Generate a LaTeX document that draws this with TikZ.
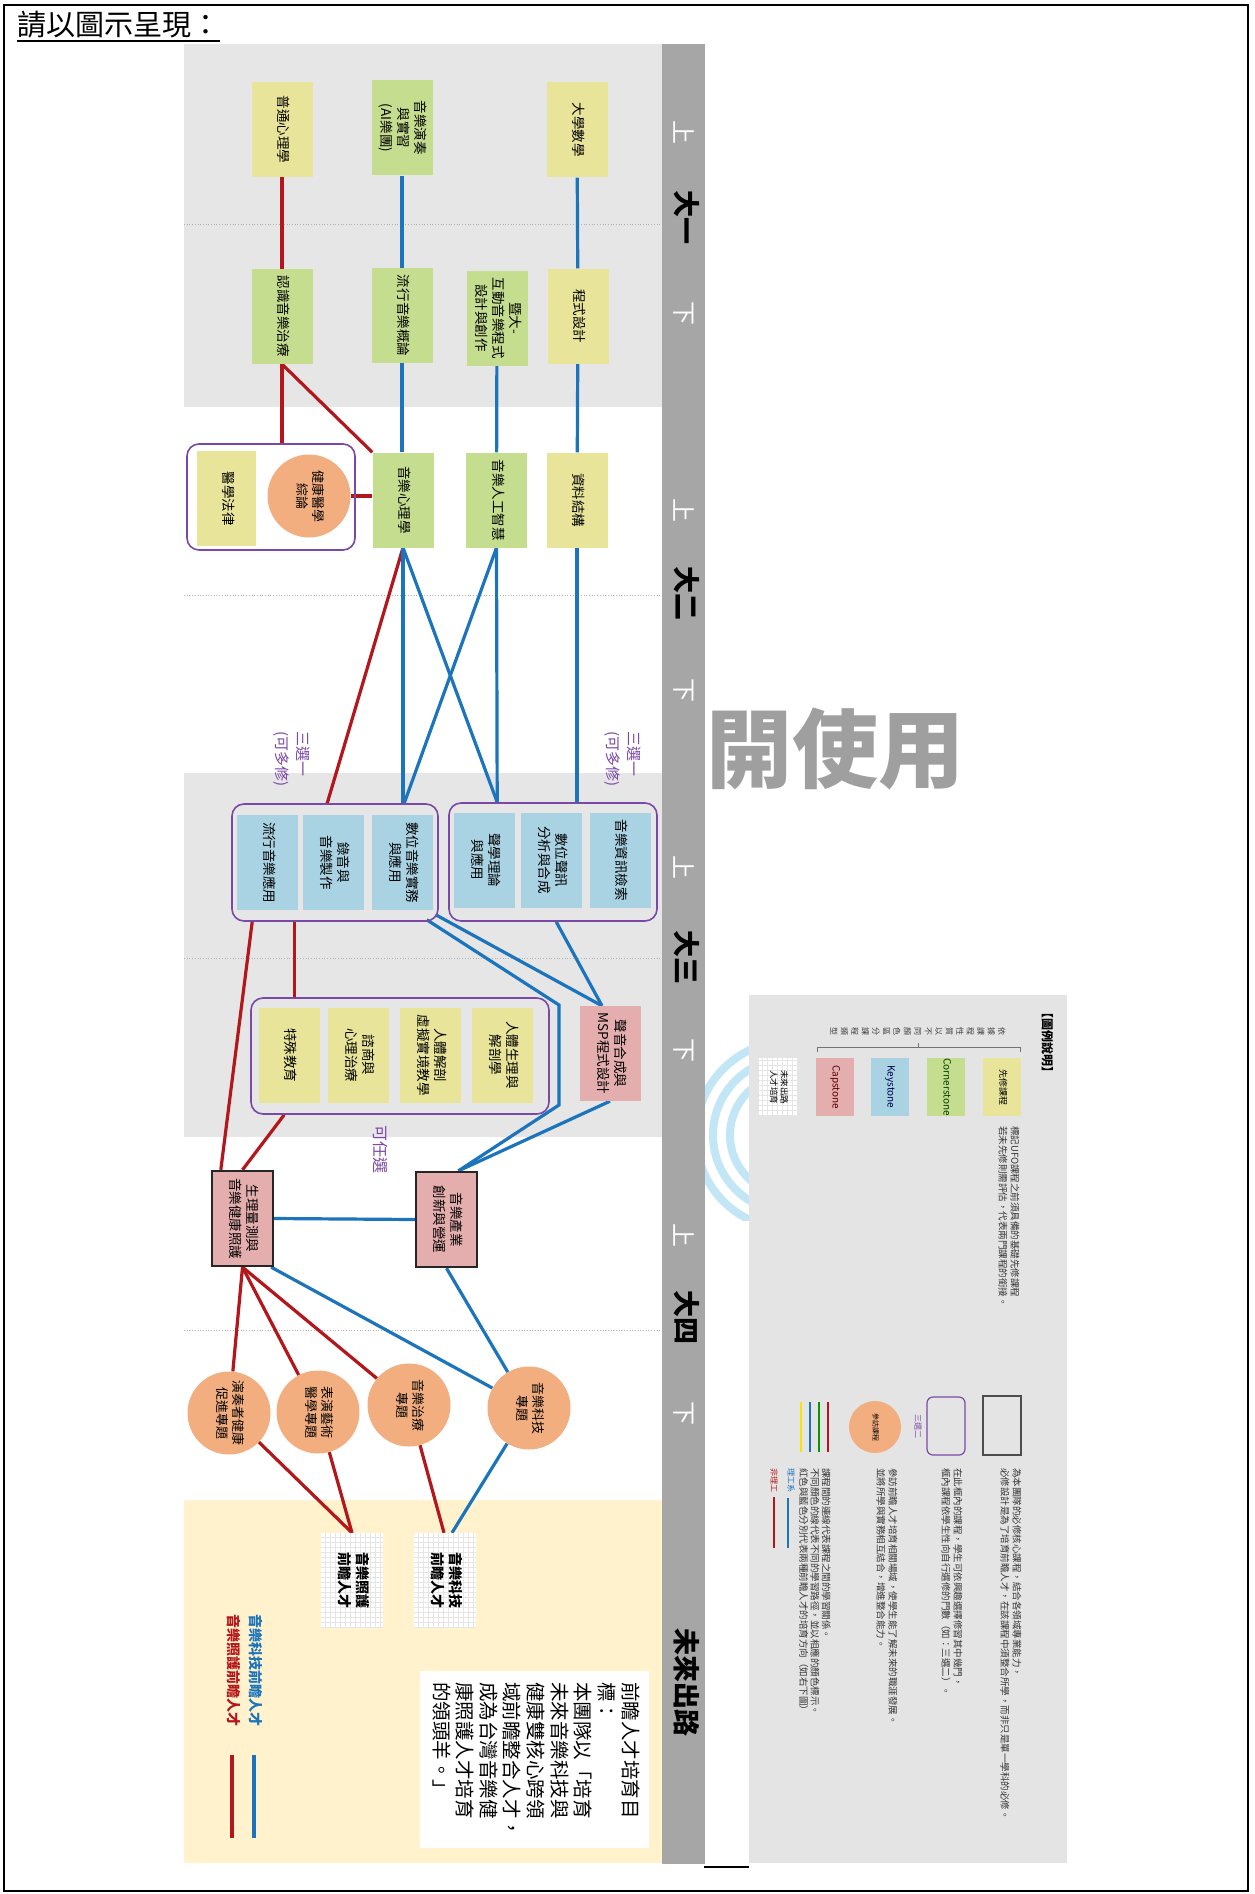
\documentclass[tikz,border=0pt]{standalone}
\usepackage{fontspec}
\setmainfont{Noto Sans CJK TC}
\usepackage{graphicx}
\usetikzlibrary{calc}
\definecolor{cy}{HTML}{E8E49A}
\definecolor{cg}{HTML}{C5DD8E}
\definecolor{cb}{HTML}{A9D3E3}
\definecolor{cp}{HTML}{E5AEAE}
\definecolor{co}{HTML}{F3AE80}
\definecolor{pur}{HTML}{7A48A6}
\definecolor{lred}{HTML}{B3161B}
\definecolor{lblue}{HTML}{1B74BC}
\definecolor{barc}{HTML}{A6A6A6}
\definecolor{band}{HTML}{E7E6E6}
\definecolor{cream}{HTML}{FFF2CC}
\definecolor{legbg}{HTML}{E4E4E4}
\definecolor{arcc}{HTML}{C2E6F5}
\newcommand{\vt}[1]{\rotatebox{-90}{\begin{tabular}{@{}c@{}}#1\end{tabular}}}
\newcommand{\vl}[1]{\rotatebox{-90}{\begin{tabular}{@{}l@{}}#1\end{tabular}}}
\pgfdeclarelayer{back}
\pgfdeclarelayer{mid}
\pgfsetlayers{back,mid,main}
\tikzset{
 bx/.style={rectangle, inner sep=0pt, minimum width=61, minimum height=95, font=\fontsize{13.5}{17}\selectfont},
 yb/.style={bx, fill=cy}, gb/.style={bx, fill=cg}, bb/.style={bx, fill=cb}, pb/.style={bx, fill=cp},
 capb/.style={bx, fill=cp, draw=black!85, line width=2.4},
 orb/.style={circle, fill=co, minimum size=83, inner sep=0pt, font=\fontsize{13}{16}\selectfont},
 grp/.style={rectangle, draw=pur, line width=1.6, rounded corners=12, inner sep=0pt},
 gridbox/.style={rectangle, fill=white, inner sep=0pt, path picture={\draw[black!10, line width=0.4] (path picture bounding box.south west) grid[step=5pt] (path picture bounding box.north east);}},
 cl/.style={draw=lred, line width=3.2},
 tl/.style={draw=lblue, line width=3.2},
 ylab/.style={font=\fontsize{24}{24}\selectfont, text=white, inner sep=0pt},
 ybig/.style={font=\bfseries\fontsize{27}{30}\selectfont, inner sep=0pt},
 pl/.style={text=pur, font=\fontsize{15}{21}\selectfont, inner sep=0pt},
 desc/.style={anchor=north east, inner sep=0pt, text=black!80, font=\fontsize{9.5}{12}\selectfont},
}
\begin{document}
\begin{tikzpicture}[x=1pt,y=-1pt]
\useasboundingbox (0,0) rectangle (1254,1894);
\begin{pgfonlayer}{back}
 \fill[white] (0,0) rectangle (1254,1894);
 \fill[band] (184,44) rectangle (662,407);
 \fill[band] (184,773) rectangle (662,1137);
 \fill[cream] (184,1500) rectangle (662,1863);
 \foreach \yy in {224,595,958,1330} \draw[black!30, dotted, line width=0.7] (184,\yy) -- (662,\yy);
 \node[anchor=west, inner sep=0pt, text=gray!75, font=\bfseries\fontsize{86}{90}\selectfont] (wm) at (706,749) {開使用};
 \begin{scope}
  \clip (705,1040) rectangle (749,1220);
  \draw[arcc, line width=8] (790,1135) circle (60);
  \draw[arcc, line width=8] (790,1135) circle (77);
  \draw[arcc, line width=8] (790,1135) circle (94);
 \end{scope}
 \fill[barc] (662,44) rectangle (705,1864);
 \fill[legbg] (749,995) rectangle (1067,1863);
 \draw[line width=2.5] (4,5) rectangle (1248,1891);
 \draw[line width=2] (704,1867) -- (749,1867);
\end{pgfonlayer}

% title
\node[anchor=base west, inner sep=0pt, font=\fontsize{29}{31}\selectfont] (title) at (17,36) {請以圖示呈現：};
\draw[line width=1.6] ($(title.south west)+(0,2)$) -- ($(title.south east)+(0,2)$);

% year bar labels
\node[ylab] (s1u) at (684,133) {\rotatebox{-90}{上}};
\node[ybig] (s1) at (684,218) {\vt{大一}};
\node[ylab] (s1d) at (684,313) {\rotatebox{-90}{下}};
\node[ylab] (s2u) at (684,510) {\rotatebox{-90}{上}};
\node[ybig] (s2) at (684,593) {\vt{大二}};
\node[ylab] (s2d) at (684,690) {\rotatebox{-90}{下}};
\node[ylab] (s3u) at (684,867) {\rotatebox{-90}{上}};
\node[ybig] (s3) at (684,957) {\vt{大三}};
\node[ylab] (s3d) at (684,1050) {\rotatebox{-90}{下}};
\node[ylab] (s4u) at (684,1235) {\rotatebox{-90}{上}};
\node[ybig] (s4) at (684,1317) {\vt{大四}};
\node[ylab] (s4d) at (684,1413) {\rotatebox{-90}{下}};
\node[ybig] (s5) at (684,1682) {\vt{未來出路}};

% year 1
\node[yb] (n1) at (282,129.5) {\vt{普通心理學}};
\node[gb] (n2) at (402,128) {\vt{音樂演奏\\與實習\\(AI樂團)}};
\node[yb] (n3) at (577,130) {\vt{大學數學}};
\node[gb] (n4) at (282,316.5) {\vt{認識音樂治療}};
\node[gb] (n5) at (402,315.5) {\vt{流行音樂概論}};
\node[gb] (n6) at (497,318) {\vt{暨大-\\互動音樂程式\\設計與創作}};
\node[yb] (n7) at (578,316) {\vt{程式設計}};

% year 2
\node[grp, minimum width=168, minimum height=106] (g1) at (271,497) {};
\node[yb, minimum width=59] (n11) at (226.5,498.5) {\vt{醫學法律}};
\node[orb] (n12) at (309,496) {\vt{健康醫學\\綜論}};
\node[gb] (n8) at (403,500) {\vt{音樂心理學}};
\node[gb] (n9) at (496.5,500) {\vt{音樂人工智慧}};
\node[yb] (n10) at (577,500) {\vt{資料結構}};

% year 3
\node[grp, minimum width=206, minimum height=117] (gA) at (335,862.5) {};
\node[bb] (a1) at (267.5,862.5) {\vt{流行音樂應用}};
\node[bb] (a2) at (333,862.5) {\vt{錄音與\\音樂製作}};
\node[bb] (a3) at (402,862.5) {\vt{數位音樂實務\\與應用}};
\node[grp, minimum width=208, minimum height=118] (gB) at (553,862) {};
\node[bb] (b1) at (484.5,860) {\vt{聲學理論\\與應用}};
\node[bb] (b2) at (551,860) {\vt{數位聲訊\\分析與合成}};
\node[bb] (b3) at (620,860) {\vt{音樂資訊檢索}};
\node[pl, anchor=north east] (lab1) at (643,731) {\vl{三選一\\(可多修)}};
\node[pl, anchor=north east] (lab2) at (312,731) {\vl{三選一\\(可多修)}};
\node[grp, minimum width=298, minimum height=116] (gC) at (400,1056) {};
\node[yb] (c1) at (289,1055) {\vt{特殊教育}};
\node[yb] (c2) at (358,1055) {\vt{諮商與\\心理治療}};
\node[yb] (c3) at (430.5,1055) {\vt{人體解剖\\虛擬實境教學}};
\node[yb] (c4) at (502.5,1055) {\vt{人體生理與\\解剖學}};
\node[pb] (msp) at (610,1053.5) {\vt{聲音合成與\\MSP程式設計}};
\node[pl, font=\fontsize{16}{18}\selectfont] (lab3) at (378,1149) {\vt{可任選}};

% year 4
\node[capb] (cap1) at (242.5,1218.5) {\vt{生理量測與\\音樂健康照護}};
\node[capb] (cap2) at (446.5,1219.5) {\vt{音樂產業\\創新與營運}};
\node[orb] (p1) at (229,1413) {\vt{演奏者健康\\促進專題}};
\node[orb] (p2) at (318,1412) {\vt{表演藝術\\醫學專題}};
\node[orb] (p3) at (409,1405) {\vt{音樂治療\\專題}};
\node[orb] (p4) at (529,1408) {\vt{音樂科技\\專題}};

% future
\node[gridbox, minimum width=62, minimum height=94, font=\bfseries\fontsize{14}{17}\selectfont] (f1) at (352,1580) {\vt{音樂照護\\前瞻人才}};
\node[gridbox, minimum width=62, minimum height=94, font=\bfseries\fontsize{14}{17}\selectfont] (f2) at (445,1580) {\vt{音樂科技\\前瞻人才}};
\node[rectangle, fill=white, minimum width=229, minimum height=177, inner sep=0pt] (goalbox) at (534.5,1759.5) {};
\node[anchor=north east, inner sep=0pt, font=\fontsize{19.5}{23.6}\selectfont] (goal) at (640,1682) {\vl{前瞻人才培育目\\標：\\本團隊以「培育\\未來音樂科技與\\健康雙核心跨領\\域前瞻整合人才，\\成為台灣音樂健\\康照護人才培育\\的領頭羊。」}};
\node[inner sep=0pt, text=lblue, font=\bfseries\fontsize{14}{16}\selectfont] (lgb) at (254,1670) {\vt{音樂科技前瞻人才}};
\node[inner sep=0pt, text=lred, font=\bfseries\fontsize{14}{16}\selectfont] (lgr) at (232,1670) {\vt{音樂照護前瞻人才}};
\coordinate (lgb1) at (254,1755); \coordinate (lgb2) at (254,1838);
\coordinate (lgr1) at (232,1755); \coordinate (lgr2) at (232,1838);

% legend
\node[inner sep=0pt, font=\bfseries\fontsize{12}{14}\selectfont] (lgt) at (1046,1042) {\vt{【圖例說明】}};
\node[inner sep=0pt, text=black!75, font=\fontsize{8}{10.5}\selectfont] (lgh) at (917,1031) {\rotatebox{-90}{\begin{tabular}{@{}c@{}}依\\據\\課\\程\\性\\質\\以\\不\\同\\顏\\色\\區\\分\\課\\程\\類\\型\end{tabular}}};
\draw[black!55, line width=0.6] (817,1052) -- (817,1047) -- (1020,1047) -- (1020,1052);
\draw[black!55, line width=0.6] (918,1047) -- (918,1043);
\node[yb, minimum width=38, minimum height=58, font=\fontsize{9}{11}\selectfont] (lg1) at (1002,1087) {\vt{先修課程}};
\node[gb, minimum width=38, minimum height=58, text=green!25!black, font=\fontsize{10}{12}\selectfont] (lg2) at (946,1087) {\vt{Cornerstone}};
\node[bb, minimum width=38, minimum height=58, text=blue!30!black, font=\fontsize{10}{12}\selectfont] (lg3) at (890,1087) {\vt{Keystone}};
\node[pb, minimum width=38, minimum height=58, text=red!35!black, font=\fontsize{10}{12}\selectfont] (lg4) at (835,1087) {\vt{Capstone}};
\node[gridbox, minimum width=38, minimum height=58, font=\fontsize{8.5}{10.5}\selectfont] (lg5) at (778,1087) {\vt{未來出路\\人才培育}};
\node[desc] (d1) at (1020,1126) {\vl{標記UFO課程之前須具備的基礎先修課程\\若未先修則需評估，代表兩門課程的銜接。}};

\node[rectangle, draw=black!70, line width=1.5, minimum width=38, minimum height=59, inner sep=0pt] (lg6) at (1002,1425.5) {};
\node[rectangle, draw=pur, line width=1.2, rounded corners=6, minimum width=38, minimum height=58, inner sep=0pt] (lg7) at (946,1426) {};
\node[pl, font=\fontsize{8}{10}\selectfont] (lg7t) at (917,1426) {\vt{三選二}};
\node[orb, minimum size=52, font=\fontsize{7}{9}\selectfont] (lg8) at (875,1427) {\vt{參訪課程}};
\coordinate (ll1a) at (828,1402); \coordinate (ll1b) at (828,1452);
\coordinate (ll2a) at (819,1402); \coordinate (ll2b) at (819,1452);
\coordinate (ll3a) at (810,1402); \coordinate (ll3b) at (810,1452);
\coordinate (ll4a) at (801,1402); \coordinate (ll4b) at (801,1452);
\draw[lred, line width=2.4] (ll1a) -- (ll1b);
\draw[green!60!black, line width=2.4] (ll2a) -- (ll2b);
\draw[lblue, line width=2.4] (ll3a) -- (ll3b);
\draw[yellow!85!orange, line width=2.4] (ll4a) -- (ll4b);
\node[desc] (d2) at (1022,1468) {\vl{為本團隊的必修核心課程，結合各領域專業能力，\\必修設計是為了培育前瞻人才，在該課程中須整合所學，而非只是單一學科的必修。}};
\node[desc] (d3) at (963,1468) {\vl{在此框內的課程，學生可依興趣選擇修習其中幾門，\\框內課程依學生性向自行選修的門數（如：三選二）。}};
\node[desc] (d4) at (898,1468) {\vl{參訪前瞻人才培育相關場域，使學生能了解未來的職涯發展。\\並將所學與實務相互結合，增進整合能力。}};
\node[desc, font=\fontsize{9.5}{10.5}\selectfont] (d5) at (831,1468) {\vl{課程間的連線代表課程之間的學習關係。\\不同顏色的線代表不同的學習路徑，並以相應的顏色標示。\\紅色與藍色分別代表兩種前瞻人才的培育方向（如右下圖）}};
\node[inner sep=0pt, anchor=north, text=lblue, font=\fontsize{8}{10}\selectfont] (lg9) at (790,1468) {\vt{理工系}};
\node[inner sep=0pt, anchor=north, text=lred, font=\fontsize{8}{10}\selectfont] (lg10) at (773,1468) {\vt{非理工}};
\coordinate (lg9a) at (788,1498); \coordinate (lg9b) at (788,1548);
\coordinate (lg10a) at (774,1497); \coordinate (lg10b) at (774,1548);
\draw[lblue, line width=2.4] (lg9a) -- (lg9b);
\draw[lred, line width=2.4] (lg10a) -- (lg10b);

% connectors
\coordinate (bend1) at (559,1005);
\coordinate (bend2) at (559,1105);
\begin{pgfonlayer}{mid}
 % red
 \draw[cl] (n1) -- (n4);
 \draw[cl] (n4.south) -- (n4.south |- g1.north);
 \draw[cl] (n4.south) -- (n8.north west);
 \draw[cl] (n12.east) -- (n8.west |- n12.east);
 \draw[cl] (n8.south) -- ($(gA.north west)+(96,0)$);
 \draw[cl] ($(gA.south west)+(21,0)$) -- ($(cap1.north west)+(10,0)$);
 \draw[cl] ($(gA.south west)+(63,0)$) -- ($(gC.north west)+(44,0)$);
 \draw[cl] ($(gC.south west)+(34,0)$) -- (cap1.north);
 \draw[cl] (cap1.south) -- (p1);
 \draw[cl] (cap1.south) -- (p2);
 \draw[cl] (cap1.south) -- (p3);
 \draw[cl] (p1) -- (f1.north);
 \draw[cl] (p2) -- (f1.north);
 \draw[cl] (p3) -- ($(f2.north)+(-1,0)$);
 \draw[cl] (lgr1) -- (lgr2);
 % blue
 \draw[tl] (n2) -- (n5);
 \draw[tl] (n5.south) -- (n5.south |- n8.north);
 \draw[tl] (n3) -- (n7);
 \draw[tl] (n7) -- (n10);
 \draw[tl] (n6) -- (n9);
 \draw[tl] (n8.south) -- (n8.south |- gA.north);
 \draw[tl] (n8.south) -- ($(gB.north west)+(49,0)$);
 \draw[tl] (n9.south) -- ($(gB.north west)+(49,0)$);
 \draw[tl] (n9.south) -- ($(gA.north west)+(173,0)$);
 \draw[tl] (n10.south) -- (n10.south |- gB.north);
 \draw[tl] ($(gA.south east)+(-3,-7)$) -- ($(msp.north)+(-8,0)$);
 \draw[tl] ($(gA.south east)+(-12,-2)$) -- (bend1) -- (bend2) -- ($(cap2.north)+(12,0)$);
 \draw[tl] ($(gB.south west)+(108,0)$) -- ($(msp.north)+(-8,0)$);
 \draw[tl] (msp.south) -- ($(cap2.north)+(12,0)$);
 \draw[tl] (cap1.east) -- (cap2.west);
 \draw[tl] ($(cap1.south east)+(-3,0)$) -- (p4);
 \draw[tl] (cap2.south) -- (p4);
 \draw[tl] (p4) -- ($(f2.north)+(7,0)$);
 \draw[tl] (lgb1) -- (lgb2);
\end{pgfonlayer}
\end{tikzpicture}
\end{document}
